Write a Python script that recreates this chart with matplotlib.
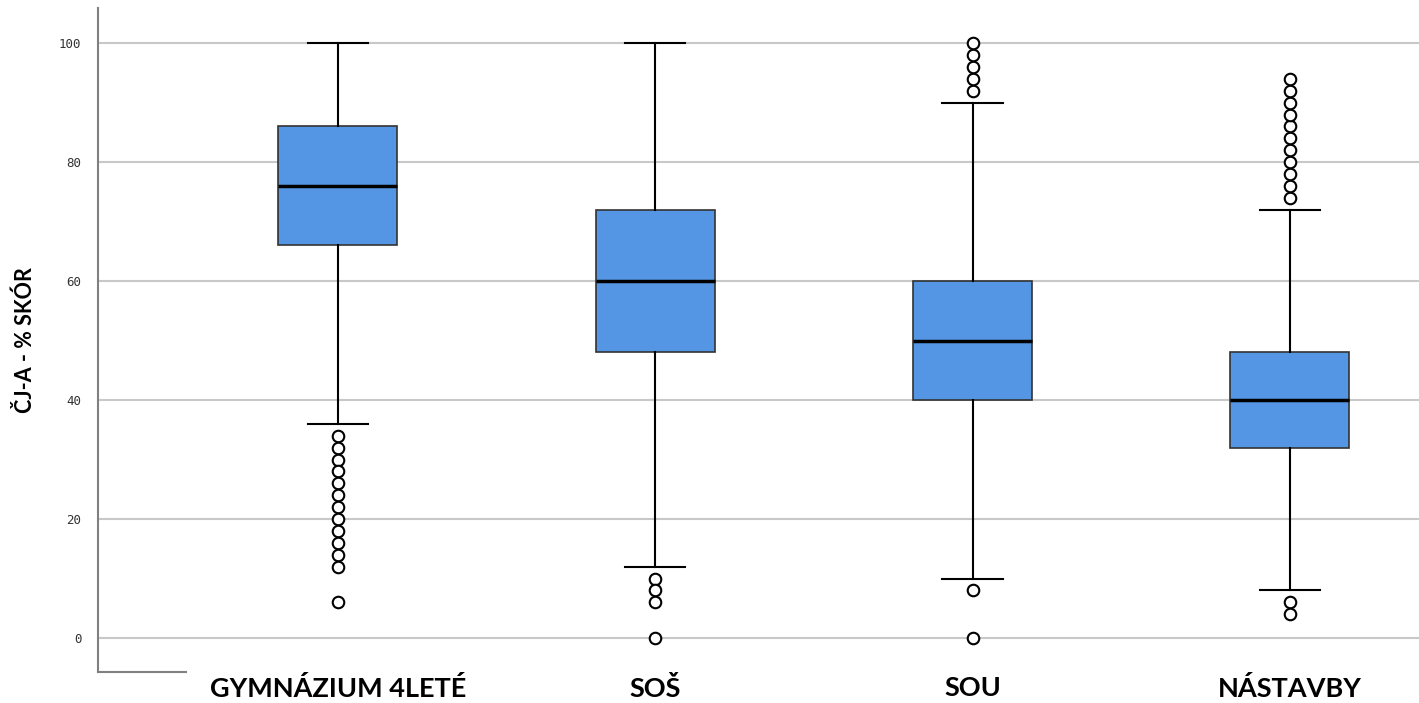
import matplotlib
matplotlib.use("Agg")
import matplotlib.pyplot as plt

categories = ["GYMNÁZIUM 4LETÉ", "SOŠ", "SOU", "NÁSTAVBY"]
whislo = [36, 12, 10, 8]
q1 = [66, 48, 40, 32]
med = [76, 60, 50, 40]
q3 = [86, 72, 60, 48]
whishi = [100, 100, 90, 72]
fliers = [
    [34, 32, 30, 28, 26, 24, 22, 20, 18, 16, 14, 12, 6],
    [10, 8, 6, 0],
    [92, 94, 96, 98, 100, 8, 0],
    [74, 76, 78, 80, 82, 84, 86, 88, 90, 92, 94, 6, 4],
]
yticks = [0, 20, 40, 60, 80, 100]

stats = []
for i, c in enumerate(categories):
    stats.append(dict(label=c, whislo=whislo[i], q1=q1[i], med=med[i],
                      q3=q3[i], whishi=whishi[i], fliers=fliers[i]))

fig = plt.figure(figsize=(14.19, 7.03), dpi=100)
ax = fig.add_axes([98/1419, 31/703, 1 - 98/1419, (672 - 8)/703])

for y in yticks:
    ax.axhline(y, color="#c8c8c8", lw=1.5, zorder=0)

positions = list(range(len(categories)))
ax.bxp(stats, positions=positions, widths=0.375, patch_artist=True,
       boxprops=dict(facecolor="#5496e4", edgecolor="#333333", linewidth=1.2),
       medianprops=dict(color="black", linewidth=2.5),
       whiskerprops=dict(color="black", linewidth=1.5),
       capprops=dict(color="black", linewidth=1.5),
       capwidths=0.19,
       flierprops=dict(marker="o", markerfacecolor="white", markeredgecolor="black",
                       markersize=8.3, markeredgewidth=1.5),
       zorder=3)

ax.set_xlim(-0.756, 3.407)
ax.set_ylim(-5.7, 105.9)
ax.set_yticks(yticks)
ax.set_yticklabels([str(v) for v in yticks], family="DejaVu Sans Mono",
                   fontsize=9, color="#333333")
ax.set_xticks(positions)
ax.set_xticklabels(categories, family="Lato", fontweight="bold", fontsize=19.5)
ax.tick_params(axis="y", length=0, pad=12)
ax.tick_params(axis="x", length=0, pad=3)

for s in ["top", "right"]:
    ax.spines[s].set_visible(False)
ax.spines["left"].set_color("#808080")
ax.spines["left"].set_linewidth(1.5)
ax.spines["bottom"].set_color("#808080")
ax.spines["bottom"].set_linewidth(1.5)
ax.spines["bottom"].set_bounds(-0.756, -0.756 + 88/317.3)

ax.set_ylabel("ČJ-A - % SKÓR", family="Lato", fontweight="bold", fontsize=15.5)
ax.yaxis.set_label_coords(-(98 - 36) / (1419 - 98), (672 - 340) / 664)

fig.savefig("out.png", dpi=100)
